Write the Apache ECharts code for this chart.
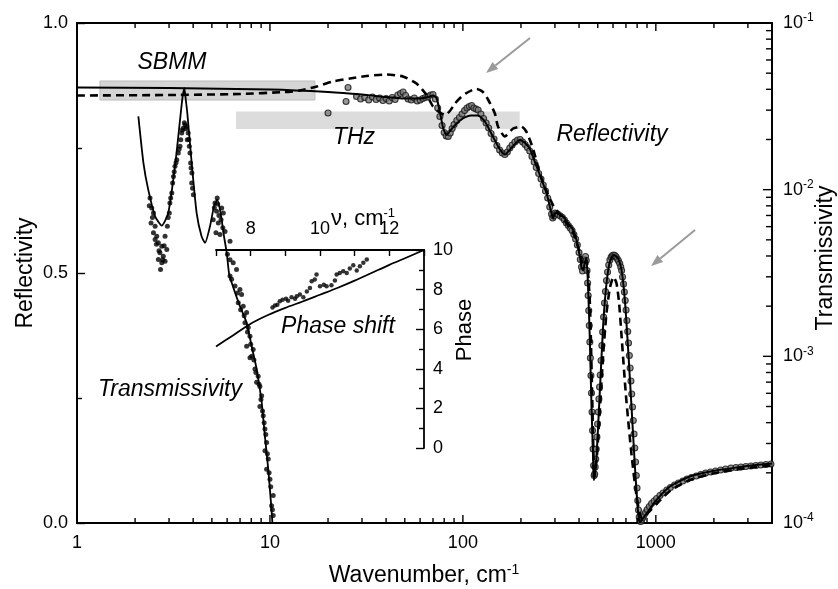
<!DOCTYPE html>
<html>
<head>
<meta charset="utf-8">
<script src="https://cdn.jsdelivr.net/npm/echarts@6/dist/echarts.min.js"></script>
<style>
  html, body { margin: 0; padding: 0; background: #fff; }
  #chart { width: 838px; height: 589px; }
</style>
</head>
<body>
<div id="chart"></div>
<script>
// ---------- Reflectivity: model fit (solid), calculation (dashed), measured points ----------
const reflFit = [
  [1,0.871],[3,0.870],[10,0.867],[20,0.862],[30,0.857],[40,0.852],[50,0.849],[60,0.849],[66,0.852],
  [70,0.855],[73,0.850],[76,0.822],[79,0.790],[82.4,0.776],[87,0.787],[92.8,0.799],[100,0.809],
  [110,0.815],[120,0.815],[130,0.803],[143,0.773],[155,0.748],[165,0.737],[180,0.752],[197,0.766],
  [210,0.760],[222,0.749],[241,0.713],[271,0.660],[288,0.619],[294,0.609],[300,0.620],[315,0.618],
  [331,0.613],[350,0.600],[373,0.586],[388,0.566],[404,0.533],[412,0.512],[420,0.505],[428,0.520],
  [437,0.530],[446,0.466],[455,0.366],[464,0.233],[473,0.133],[477,0.086],[485,0.100],[493,0.133],
  [513,0.266],[534,0.399],[555,0.479],[578,0.523],[606,0.536],[638,0.529],[664,0.506],[691,0.446],
  [719,0.346],[748,0.233],[779,0.113],[810,0.019],[826,0.001],[860,0.010],[895,0.019],[1008,0.046],
  [1183,0.073],[1501,0.093],[1982,0.104],[2618,0.111],[3300,0.116],[4000,0.119]
];
const reflCalc = [
  [1,0.855],[3,0.856],[7,0.858],[12,0.862],[14.3,0.865],[17.5,0.873],[21.2,0.883],[26,0.889],
  [31.7,0.894],[40.3,0.897],[48.9,0.893],[57.5,0.879],[64.9,0.856],[70,0.833],[76,0.821],[81,0.816],
  [86,0.825],[91,0.839],[98,0.852],[104.5,0.860],[112,0.866],[118,0.868],[127,0.862],[135,0.847],
  [146.5,0.819],[152,0.793],[165,0.773],[182,0.789],[201,0.793],[213,0.783],[226,0.759],[236,0.736],
  [250,0.700],[271,0.664],[294,0.635],[331,0.608],[373,0.580],[404,0.540],[420,0.515],[437,0.525],
  [455,0.440],[468,0.250],[480,0.100],[493,0.125],[513,0.230],[534,0.340],[555,0.420],[578,0.470],
  [603,0.492],[625,0.480],[645,0.440],[664,0.375],[700,0.255],[750,0.133],[800,0.046],[843,0.010],
  [880,0.014],[930,0.024],[1008,0.038],[1183,0.064],[1501,0.086],[1982,0.099],[2618,0.107],
  [3300,0.112],[4000,0.115]
];
const reflMeasured = [
  [20.0,0.820],[24.8,0.843],[25.4,0.871],[28.1,0.853],[29.5,0.848],[31.0,0.851],[32.5,0.846],
  [34.0,0.852],[35.5,0.847],[37.0,0.850],[38.5,0.845],[40.0,0.849],[41.5,0.844],[43.0,0.851],
  [44.5,0.847],[46.0,0.856],[47.5,0.859],[49.0,0.862],[50.5,0.855],[52.0,0.848],[54.0,0.846],
  [56.0,0.850],[58.0,0.844],[60.0,0.846],[62.0,0.849],[64.0,0.851],[66.0,0.853],[68.0,0.856],
  [70.0,0.857],[72.0,0.848],[74.0,0.830],[76.0,0.813],[78.0,0.795],[80.0,0.781],[82.0,0.774],
  [84.0,0.773],[86.0,0.780],[88.0,0.789],[90.0,0.797],[93.0,0.805],[96.0,0.811],[99.0,0.818],
  [102,0.825],[105,0.830],[108,0.833],[111,0.835],[114,0.830],[117,0.828],[120,0.826],[124,0.818],
  [128,0.809],[132,0.800],[136,0.790],[140,0.779],[145,0.768],[150,0.755],[155,0.746],[160,0.740],
  [165,0.737],[170,0.742],[175,0.750],[180,0.756],[186,0.762],[192,0.766],[198,0.767],[204,0.762],
  [210,0.757],[216,0.751],[222,0.744],[228,0.733],[234,0.722],[240,0.711],[247,0.699],[254,0.688],
  [261,0.676],[268,0.664],[275,0.650],[282,0.632],[288,0.618],[292,0.610],[296,0.614],[300,0.620],
  [306,0.619],[312,0.617],[320,0.614],[328,0.611],[336,0.606],[344,0.600],[352,0.595],[360,0.590],
  [368,0.585],[376,0.577],[384,0.568],[392,0.556],[400,0.541],[406,0.527],[412,0.512],[417,0.504],
  [422,0.515],[427,0.527],[432,0.533],[436,0.525],[440,0.505],[443,0.480],[446,0.455],[449,0.425],
  [452,0.395],[455,0.362],[458,0.330],[461,0.295],[464,0.260],[467,0.222],[470,0.185],[473,0.148],
  [476,0.115],[479,0.095],[482,0.098],[485,0.112],[488,0.128],[491,0.148],[495,0.172],[499,0.198],
  [503,0.222],[507,0.248],[511,0.272],[515,0.296],[520,0.325],[525,0.355],[530,0.382],[536,0.412],
  [542,0.440],[548,0.463],[555,0.485],[562,0.502],[570,0.516],[578,0.526],[587,0.532],[596,0.535],
  [605,0.536],[614,0.535],[623,0.532],[632,0.528],[641,0.524],[650,0.519],[658,0.512],[665,0.505],
  [672,0.492],[680,0.478],[687,0.462],[694,0.445],[701,0.426],[708,0.405],[715,0.383],[722,0.360],
  [729,0.335],[736,0.310],[743,0.284],[750,0.258],[757,0.232],[764,0.205],[771,0.178],[778,0.150],
  [785,0.122],[792,0.095],[799,0.070],[806,0.045],[813,0.026],[820,0.012],[828,0.004],[836,0.003],
  [846,0.007],[856,0.011],[868,0.016],[884,0.021],[902,0.027],[925,0.033],[950,0.039],[980,0.044],
  [1010,0.049],[1050,0.055],[1090,0.060],[1140,0.066],[1190,0.071],[1250,0.076],[1310,0.080],
  [1380,0.084],[1450,0.088],[1530,0.091],[1620,0.094],[1710,0.097],[1810,0.100],[1920,0.102],
  [2040,0.104],[2170,0.106],[2300,0.108],[2450,0.110],[2600,0.111],[2760,0.112],[2930,0.113],
  [3110,0.114],[3300,0.115],[3500,0.116],[3720,0.117],[3950,0.118]
];

// ---------- Transmissivity (right log axis) ----------
const transFit = [
  [2.08,0.0275],[2.21,0.01445],[2.34,0.0100],[2.54,0.00692],[2.75,0.00608],[2.97,0.00724],
  [3.22,0.0138],[3.42,0.0262],[3.52,0.0355],[3.60,0.0406],[3.66,0.0350],[3.73,0.0288],
  [3.93,0.01445],[4.17,0.00724],[4.42,0.00525],[4.61,0.00480],[4.89,0.00603],[5.13,0.00794],
  [5.33,0.00870],[5.55,0.00724],[5.78,0.00525],[5.97,0.00418],[6.15,0.0031],[6.45,0.0026],
  [6.99,0.0020],[7.57,0.00159],[8.04,0.00115],[8.53,0.00084],[9.06,0.00053],[9.42,0.00033],
  [9.80,0.00021],[10.12,0.000133],[10.3,0.0001]
];
const transMeasured = [
  [2.39,0.00891],[2.44,0.00776],[2.49,0.00724],[2.42,0.00632],[2.54,0.00603],[2.49,0.00551],
  [2.59,0.00525],[2.54,0.00502],[2.64,0.00480],[2.75,0.00457],[2.69,0.00418],[2.80,0.00399],
  [2.64,0.00381],[2.75,0.00364],[2.71,0.00332],[2.86,0.00372],[2.92,0.00438],[2.86,0.00525],
  [2.94,0.00603],[3.01,0.00724],[3.03,0.00832],[3.10,0.00955],[3.13,0.01096],[3.16,0.0120],
  [3.22,0.0138],[3.29,0.0151],[3.35,0.0166],[3.42,0.0182],[3.45,0.0199],[3.49,0.0219],
  [3.55,0.0234],[3.63,0.0245],[3.70,0.0239],[3.77,0.0219],[3.73,0.0199],[3.82,0.0182],
  [3.85,0.0166],[3.88,0.01445],[3.94,0.0126],[3.93,0.01096],[4.01,0.00933],
  [2.37,0.0080],[2.46,0.0068],[2.58,0.0047],[2.66,0.0043],[2.78,0.0038],[2.83,0.0046],
  [2.97,0.0068],[3.06,0.0089],[3.19,0.0128],[3.26,0.0145],[3.38,0.0175],[3.52,0.0228],
  [3.60,0.0252],[3.67,0.0232],[3.80,0.0200],[3.90,0.0135],[3.97,0.0102],
  [5.19,0.00832],[5.29,0.00741],[5.33,0.0089],[5.36,0.0082],[5.08,0.00661],[5.40,0.00632],
  [5.25,0.00551],[5.51,0.00538],[5.62,0.00776],[5.73,0.00724],[5.85,0.00562],[6.21,0.0049],
  [5.15,0.0078],[5.44,0.0070],[5.58,0.0066],[5.70,0.0059],[6.02,0.0041],
  [6.21,0.0038],[6.45,0.00364],[6.71,0.00332],
  [6.21,0.00303],[6.59,0.00264],[6.99,0.00252],[7.13,0.00235],[6.85,0.0021],[7.27,0.0020],
  [7.57,0.00183],[7.42,0.00159],[7.72,0.00149],[7.88,0.00132],[7.57,0.00115],[8.19,0.0011],
  [8.04,0.0010],[7.88,0.00098],[8.36,0.00084],[8.69,0.00076],[8.53,0.0007],[8.87,0.00066],
  [9.06,0.00058],[8.87,0.0005],[9.23,0.00044],[9.42,0.000366],[9.61,0.000304],[9.42,0.000271],
  [9.80,0.000242],[9.61,0.00021],[10.0,0.000183],[10.4,0.000146],[10.2,0.000127],[10.4,0.000111],
  [6.33,0.0029],[6.78,0.0024],[7.05,0.0019],[7.35,0.00175],[7.65,0.00140],[7.95,0.00118],
  [8.26,0.00095],[8.45,0.00080],[8.78,0.00068],[8.98,0.00055],[9.15,0.00047],[9.33,0.00040],
  [9.52,0.00034],[9.70,0.00026],[9.90,0.00020],[10.1,0.000165],[10.3,0.000120]
];

// ---------- Inset: phase shift vs wavenumber ----------
const phaseFit = [
  [7,5.12],[7.5,5.70],[8,6.28],[8.5,6.72],[9,7.08],[9.5,7.40],[10,7.74],[10.5,8.08],
  [11,8.45],[11.5,8.85],[12,9.25],[12.5,9.62],[13,10.0]
];
const phaseMeasured = [
  [8.63,7.10],[8.70,7.20],[8.77,7.24],[8.84,7.41],[8.92,7.49],[9.02,7.54],[9.08,7.44],[9.18,7.61],
  [9.28,7.54],[9.33,7.66],[9.42,7.75],[9.52,7.61],[9.62,7.91],[9.71,8.08],[9.76,8.42],[9.85,8.51],
  [9.90,8.76],[10.0,8.17],[10.11,8.25],[10.19,8.17],[10.33,8.22],[10.43,8.46],[10.48,8.76],
  [10.57,8.84],[10.67,8.93],[10.77,8.84],[10.86,9.07],[10.96,9.23],[11.06,8.96],[11.15,9.18],
  [11.25,9.35],[11.35,9.52]
];

// ---------- Spectral ranges of the two sources (wavenumber span, reflectivity span) ----------
const sbmmRange = [1.315, 17.1], sbmmLevels = [0.884, 0.846];
const thzRange = [6.67, 197], thzLevels = [0.823, 0.788];

// ---------- Axis ticks and labels ----------
const xLabels = [1, 10, 100, 1000];
const xMinorTicks = [2,3,4,5,6,7,8,9,20,30,40,50,60,70,80,90,200,300,400,500,600,700,800,900,2000,3000,4000];
const tLabels = [1e-4, 1e-3, 1e-2, 1e-1];
const tMinorTicks = [2e-4,3e-4,4e-4,5e-4,6e-4,7e-4,8e-4,9e-4,2e-3,3e-3,4e-3,5e-3,6e-3,7e-3,8e-3,9e-3,
                     2e-2,3e-2,4e-2,5e-2,6e-2,7e-2,8e-2,9e-2];
const reflTicks = [0, 0.5, 1.0];
const phaseLabels = [0, 2, 4, 6, 8, 10];
const insetNuLabels = [8, 10, 12];

const FONT = '"Liberation Sans", Arial, Helvetica, sans-serif';
const X_MAX = 4000;

function isOneOf(v, list) {
  return list.some(t => Math.abs(v - t) <= Math.abs(t) * 1e-6 + 1e-9);
}
function tickLine(x1, y1, x2, y2) {
  return { type: 'line', shape: { x1, y1, x2, y2 }, style: { stroke: '#000', lineWidth: 1.4 } };
}
function arrow(x1, y1, x2, y2) {
  const dx = x2 - x1, dy = y2 - y1, len = Math.hypot(dx, dy);
  const ux = dx / len, uy = dy / len, hl = 12, hw = 4.5;
  const bx = x2 - ux * hl, by = y2 - uy * hl;
  return {
    type: 'group',
    children: [
      { type: 'line', shape: { x1, y1, x2: bx, y2: by }, style: { stroke: '#9a9a9a', lineWidth: 2 } },
      { type: 'polygon', shape: { points: [[x2, y2], [bx - uy * hw, by + ux * hw], [bx + uy * hw, by - ux * hw]] },
        style: { fill: '#9a9a9a' } }
    ]
  };
}
function label(text, x, y, size, italic, rotation) {
  return {
    type: 'text', x, y, rotation: rotation || 0, z: 50,
    style: {
      text, fill: '#000', fontSize: size, fontFamily: FONT, fontStyle: italic ? 'italic' : 'normal',
      align: 'center', verticalAlign: 'middle', textAlign: 'center', textVerticalAlign: 'middle',
      rich: { s: { fontSize: Math.round(size * 0.6), fontFamily: FONT, padding: [0, 0, Math.round(size * 0.5), 0] } }
    }
  };
}

const chart = echarts.init(document.getElementById('chart'), null, { renderer: 'canvas' });

const axisLineStyle = { color: '#000', width: 1.8 };

const option = {
  animation: false,
  backgroundColor: '#fff',
  grid: [
    { left: 77, right: 66, top: 23, bottom: 66, show: true, borderColor: '#000', borderWidth: 1.8, backgroundColor: 'transparent' },
    { left: 216, top: 250, width: 208, height: 198, show: false }
  ],
  xAxis: [
    {
      type: 'log', logBase: 10, gridIndex: 0, min: 1, max: X_MAX, position: 'bottom',
      axisLine: { show: true, onZero: false, lineStyle: axisLineStyle },
      axisTick: { show: false }, minorTick: { show: false }, splitLine: { show: false },
      axisLabel: {
        color: '#000', fontSize: 18, fontFamily: FONT, margin: 11,
        formatter: v => isOneOf(v, xLabels) ? String(Math.round(v)) : ''
      }
    },
    {
      type: 'value', gridIndex: 1, min: 7, max: 13, interval: 1, position: 'top',
      axisLine: { show: true, onZero: false, lineStyle: axisLineStyle },
      axisTick: { show: true, inside: true, length: 6, lineStyle: { color: '#000', width: 1.4 } },
      splitLine: { show: false },
      axisLabel: {
        color: '#000', fontSize: 18, fontFamily: FONT, margin: 12,
        formatter: v => isOneOf(v, insetNuLabels) ? String(v) : ''
      }
    }
  ],
  yAxis: [
    {
      type: 'value', gridIndex: 0, min: 0, max: 1, interval: 0.5, position: 'left',
      axisLine: { show: true, onZero: false, lineStyle: axisLineStyle },
      axisTick: { show: true, inside: true, length: 8, lineStyle: { color: '#000', width: 1.4 } },
      minorTick: { show: true, splitNumber: 2, length: 5, lineStyle: { color: '#000', width: 1.4 } },
      splitLine: { show: false }, minorSplitLine: { show: false },
      axisLabel: {
        color: '#000', fontSize: 18, fontFamily: FONT, margin: 9,
        formatter: v => isOneOf(v, reflTicks) ? v.toFixed(1) : ''
      }
    },
    {
      type: 'log', logBase: 10, gridIndex: 0, min: 1e-4, max: 1e-1, position: 'right',
      axisLine: { show: true, onZero: false, lineStyle: axisLineStyle },
      axisTick: { show: false }, minorTick: { show: false }, splitLine: { show: false },
      axisLabel: {
        color: '#000', fontSize: 18, fontFamily: FONT, margin: 11,
        formatter: v => isOneOf(v, tLabels) ? '10{s|' + Math.round(Math.log10(v)) + '}' : '',
        rich: { s: { fontSize: 12, fontFamily: FONT, color: '#000', padding: [0, 0, 10, 0] } }
      }
    },
    {
      type: 'value', gridIndex: 1, min: 0, max: 10, interval: 2, position: 'right',
      axisLine: { show: true, onZero: false, lineStyle: axisLineStyle },
      axisTick: { show: true, inside: true, length: 8, lineStyle: { color: '#000', width: 1.4 } },
      minorTick: { show: true, splitNumber: 2, length: 5, lineStyle: { color: '#000', width: 1.4 } },
      splitLine: { show: false }, minorSplitLine: { show: false },
      axisLabel: {
        color: '#000', fontSize: 18, fontFamily: FONT, margin: 9,
        formatter: v => isOneOf(v, phaseLabels) ? String(v) : ''
      }
    }
  ],
  series: [
    {
      name: 'R measured', type: 'scatter', xAxisIndex: 0, yAxisIndex: 0, z: 2,
      data: reflMeasured, symbol: 'circle', symbolSize: 6,
      itemStyle: { color: '#7c7c7c', borderColor: '#141414', borderWidth: 1.1 },
      markArea: {
        silent: true, z: 1,
        data: [
          [{ coord: [sbmmRange[0], sbmmLevels[0]], itemStyle: { color: '#d5d5d5', borderColor: '#bcbcbc', borderWidth: 1 } },
           { coord: [sbmmRange[1], sbmmLevels[1]] }],
          [{ coord: [thzRange[0], thzLevels[0]], itemStyle: { color: '#dcdcdc', borderWidth: 0 } },
           { coord: [thzRange[1], thzLevels[1]] }]
        ]
      }
    },
    {
      name: 'R fit', type: 'line', xAxisIndex: 0, yAxisIndex: 0, z: 4,
      data: reflFit, showSymbol: false, smooth: 0.2,
      lineStyle: { color: '#000', width: 2 }
    },
    {
      name: 'R calc', type: 'line', xAxisIndex: 0, yAxisIndex: 0, z: 5,
      data: reflCalc, showSymbol: false, smooth: 0.2,
      lineStyle: { color: '#000', width: 2.6, type: [8, 5] }
    },
    {
      name: 'T fit', type: 'line', xAxisIndex: 0, yAxisIndex: 1, z: 4,
      data: transFit, showSymbol: false, smooth: 0.2,
      lineStyle: { color: '#000', width: 1.8 }
    },
    {
      name: 'T measured', type: 'scatter', xAxisIndex: 0, yAxisIndex: 1, z: 3,
      data: transMeasured, symbol: 'circle', symbolSize: 5,
      itemStyle: { color: '#000' }
    },
    {
      name: 'Phase fit', type: 'line', xAxisIndex: 1, yAxisIndex: 2, z: 4,
      data: phaseFit, showSymbol: false, smooth: 0.3,
      lineStyle: { color: '#000', width: 1.8 }
    },
    {
      name: 'Phase measured', type: 'scatter', xAxisIndex: 1, yAxisIndex: 2, z: 3,
      data: phaseMeasured, symbol: 'circle', symbolSize: 4.5,
      itemStyle: { color: '#000' }
    },
    {
      // wavenumber ticks on the bottom and top frame edges
      type: 'custom', xAxisIndex: 0, yAxisIndex: 0, z: 10, silent: true, clip: false,
      encode: { x: 0, y: 1 },
      data: xLabels.map(v => [v, 0, 1]).concat(xMinorTicks.map(v => [v, 0, 0])),
      renderItem: (params, api) => {
        const v = api.value(0), len = api.value(2) ? 8 : 5;
        const b = api.coord([v, 0]), t = api.coord([v, 1]);
        return { type: 'group', children: [
          tickLine(b[0], b[1], b[0], b[1] - len),
          tickLine(t[0], t[1], t[0], t[1] + len)
        ] };
      }
    },
    {
      // transmissivity ticks on the right axis
      type: 'custom', xAxisIndex: 0, yAxisIndex: 1, z: 10, silent: true, clip: false,
      encode: { x: 0, y: 1 },
      data: tLabels.map(v => [X_MAX, v, 1]).concat(tMinorTicks.map(v => [X_MAX, v, 0])),
      renderItem: (params, api) => {
        const len = api.value(2) ? 9 : 6;
        const p = api.coord([api.value(0), api.value(1)]);
        return tickLine(p[0], p[1], p[0] - len, p[1]);
      }
    }
  ],
  graphic: [
    label('SBMM', 172, 63, 23, true),
    label('THz', 354, 138, 23, true),
    label('Reflectivity', 612, 135, 23, true),
    label('Transmissivity', 170, 390, 23, true),
    label('Phase shift', 338, 327, 23, true),
    label('ν, cm{s|-1}', 363, 219, 22, false),
    label('Phase', 465, 330, 22, false, Math.PI / 2),
    label('Reflectivity', 26, 273, 23, false, Math.PI / 2),
    label('Transmissivity', 826, 258, 23, false, Math.PI / 2),
    label('Wavenumber, cm{s|-1}', 424, 576, 23, false),
    arrow(530, 38, 486, 73),
    arrow(695, 230, 651, 266)
  ]
};

chart.setOption(option);
</script>
</body>
</html>
